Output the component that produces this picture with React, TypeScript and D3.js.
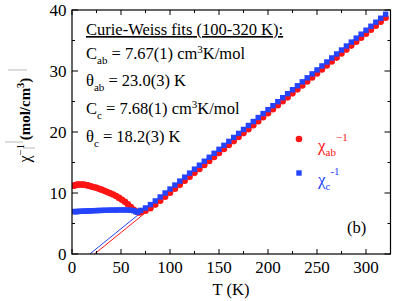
import React from 'react'
import * as d3 from 'd3'

// chi_ab^-1 (red circles) and chi_c^-1 (blue squares)
const tAbLow = [1.8, 3, 4.5, 6, 8, 10, 12, 14, 16, 18, 20, 22.5, 25, 27.5, 30, 33, 36, 39, 42, 45, 48, 51, 54, 57, 60, 63, 66, 68]
const chiAbLow = [11.2, 11.28, 11.33, 11.37, 11.4, 11.4, 11.37, 11.32, 11.25, 11.15, 11.05, 10.95, 10.85, 10.7, 10.55, 10.35, 10.15, 9.95, 9.75, 9.5, 9.2, 8.9, 8.55, 8.15, 7.7, 7.25, 6.95, 6.82]
const tCLow = [1.8, 3, 4.5, 6, 8, 10, 12, 14, 16, 18, 20, 22.5, 25, 27.5, 30, 33, 36, 39, 42, 45, 48, 51, 54, 57, 60, 63, 65, 67]
const chiCLow = [6.95, 6.95, 6.95, 6.97, 7.0, 7.0, 7.02, 7.04, 7.05, 7.07, 7.08, 7.1, 7.12, 7.13, 7.15, 7.17, 7.18, 7.2, 7.2, 7.2, 7.22, 7.22, 7.22, 7.2, 7.18, 7.1, 6.95, 6.85]

const tHigh = [70, 75, 80, 85, 90, 95, 100, 105, 110, 115, 120, 125, 130, 135, 140, 145, 150, 155, 160, 165, 170, 175, 180, 185, 190, 195, 200, 205, 210, 215, 220, 225, 230, 235, 240, 245, 250, 255, 260, 265, 270, 275, 280, 285, 290, 295, 300, 305, 310, 315, 320]
const chiAbHigh = [6.85, 7.1, 7.5, 8.1, 8.75, 9.4, 10.04, 10.69, 11.34, 12.0, 12.65, 13.3, 13.95, 14.6, 15.25, 15.9, 16.56, 17.21, 17.86, 18.51, 19.17, 19.82, 20.47, 21.12, 21.77, 22.43, 23.08, 23.73, 24.38, 25.03, 25.68, 26.34, 26.99, 27.64, 28.29, 28.94, 29.6, 30.25, 30.9, 31.55, 32.2, 32.86, 33.51, 34.16, 34.81, 35.46, 36.11, 36.77, 37.42, 38.07, 38.72]
const chiCHigh = [7.15, 7.55, 8.1, 8.7, 9.35, 10.0, 10.65, 11.3, 11.95, 12.6, 13.26, 13.91, 14.56, 15.21, 15.86, 16.51, 17.16, 17.81, 18.46, 19.11, 19.77, 20.42, 21.07, 21.72, 22.37, 23.02, 23.67, 24.32, 24.97, 25.63, 26.28, 26.93, 27.58, 28.23, 28.88, 29.53, 30.18, 30.83, 31.48, 32.14, 32.79, 33.44, 34.09, 34.74, 35.39, 36.04, 36.69, 37.34, 38.0, 38.65, 39.3]

// Curie-Weiss fit parameters
const fitAb = { C: 7.67, theta: 23.0 }
const fitC = { C: 7.68, theta: 18.2 }

const xMajor = [0, 50, 100, 150, 200, 250, 300]
const xMinor = [25, 75, 125, 175, 225, 275]
const yMajor = [0, 10, 20, 30, 40]
const yMinor = [5, 15, 25, 35]

const RED = '#ff1414'
const BLUE = '#2444ff'
const FONT = '"Liberation Serif", "DejaVu Serif", serif'

export default function App() {
  const W = 395, H = 301
  const m = { l: 72, r: 390.5, t: 10, b: 254 }
  const x = d3.scaleLinear().domain([0, 325]).range([m.l, m.r])
  const y = d3.scaleLinear().domain([0, 40]).range([m.b, m.t])

  const abPts = tAbLow.map((t, i) => [t, chiAbLow[i]]).concat(tHigh.map((t, i) => [t, chiAbHigh[i]]))
  const cPts = tCLow.map((t, i) => [t, chiCLow[i]]).concat(tHigh.map((t, i) => [t, chiCHigh[i]]))

  const line = d3.line<number[]>().x(d => x(d[0])).y(d => y(d[1]))
  const fitLine = (f: { C: number, theta: number }) => line([[f.theta, 0], [320, (320 - f.theta) / f.C]])

  const sub = (s: string) => <tspan fontSize="11" dy="5">{s}</tspan>
  const rows = [
    { y: 59, el: <>C{sub('ab')}<tspan dy="-5"> = 7.67(1) cm</tspan><tspan fontSize="11" dy="-6">3</tspan><tspan dy="6">K/mol</tspan></> },
    { y: 86, el: <>θ{sub('ab')}<tspan dy="-5"> = 23.0(3) K</tspan></> },
    { y: 114, el: <>C{sub('c')}<tspan dy="-5"> = 7.68(1) cm</tspan><tspan fontSize="11" dy="-6">3</tspan><tspan dy="6">K/mol</tspan></> },
    { y: 142, el: <>θ{sub('c')}<tspan dy="-5"> = 18.2(3) K</tspan></> },
  ]

  return (
    <svg width={W} height={H} style={{ position: 'absolute', left: 0, top: 0, background: '#fff' }} fontFamily={FONT}>
      <defs>
        <clipPath id="plot"><rect x={m.l} y={m.t} width={m.r - m.l} height={m.b - m.t} /></clipPath>
      </defs>

      {/* fit lines under the markers */}
      <g clipPath="url(#plot)" fill="none" strokeWidth={1}>
        <path d={fitLine(fitC) || ''} stroke={BLUE} />
        <path d={fitLine(fitAb) || ''} stroke={RED} />
      </g>

      <g clipPath="url(#plot)">
        {abPts.map((d, i) => (
          <circle key={'a' + i} cx={x(d[0])} cy={y(d[1])} r={3.3} fill={RED} />
        ))}
        {cPts.map((d, i) => (
          <rect key={'c' + i} x={x(d[0]) - 2.7} y={y(d[1]) - 2.7} width={5.4} height={5.4} fill={BLUE} />
        ))}
      </g>

      {/* frame and ticks */}
      <rect x={m.l} y={m.t} width={m.r - m.l} height={m.b - m.t} fill="none" stroke="#000" strokeWidth={1.2} />
      <g stroke="#000" strokeWidth={1}>
        {xMajor.map(v => (
          <g key={'xm' + v}>
            <line x1={x(v)} x2={x(v)} y1={m.b} y2={m.b - 5} />
            <line x1={x(v)} x2={x(v)} y1={m.t} y2={m.t + 5} />
          </g>
        ))}
        {xMinor.map(v => (
          <g key={'xn' + v}>
            <line x1={x(v)} x2={x(v)} y1={m.b} y2={m.b - 3} />
            <line x1={x(v)} x2={x(v)} y1={m.t} y2={m.t + 3} />
          </g>
        ))}
        {yMajor.map(v => (
          <g key={'ym' + v}>
            <line x1={m.l} x2={m.l + 6} y1={y(v)} y2={y(v)} />
            <line x1={m.r} x2={m.r - 6} y1={y(v)} y2={y(v)} />
          </g>
        ))}
        {yMinor.map(v => (
          <g key={'yn' + v}>
            <line x1={m.l} x2={m.l + 3} y1={y(v)} y2={y(v)} />
            <line x1={m.r} x2={m.r - 3} y1={y(v)} y2={y(v)} />
          </g>
        ))}
      </g>

      <g fontSize="17" fill="#000">
        {xMajor.map(v => (
          <text key={'xl' + v} x={x(v)} y={273} textAnchor="middle">{v}</text>
        ))}
        {yMajor.map(v => (
          <text key={'yl' + v} x={66.5} y={y(v)} dy="0.35em" textAnchor="end">{v}</text>
        ))}
      </g>

      <text x={231} y={295} fontSize="16.5" textAnchor="middle">T (K)</text>

      {/* y axis label */}
      <g transform="translate(30,120) rotate(-90)">
        <text x={0} y={0} fontSize="15" textAnchor="middle">
          <tspan fontSize="16">χ</tspan><tspan fontSize="10.5" dy="-6">−1</tspan>
          <tspan dy="6" fontWeight="bold"> (mol/cm</tspan><tspan fontSize="10.5" dy="-6" fontWeight="bold">3</tspan><tspan dy="6" fontWeight="bold">)</tspan>
        </text>
        <g stroke="#aaa" strokeWidth={0.8}>
          <line x1={-22} x2={-22} y1={-25} y2={-7} />
          <line x1={-28} x2={-28} y1={-7} y2={5} />
          <line x1={50} x2={50} y1={-22} y2={-3} />
        </g>
      </g>

      {/* annotation */}
      <g fontSize="16.5" fill="#000">
        <text x={86} y={35} textDecoration="underline">Curie-Weiss fits (100-320 K):</text>
        {rows.map((r, i) => <text key={i} x={86} y={r.y}>{r.el}</text>)}
      </g>

      {/* legend */}
      <circle cx={299} cy={139} r={3.3} fill={RED} />
      <text x={318} y={151} fontSize="17" fill={RED}>χ<tspan fontSize="11" dy="5">ab</tspan><tspan fontSize="11" dy="-15">−1</tspan></text>
      <rect x={296.3} y={170.3} width={5.4} height={5.4} fill={BLUE} />
      <text x={318} y={185} fontSize="17" fill={BLUE}>χ<tspan fontSize="11" dy="5">c</tspan><tspan fontSize="11" dy="-15">-1</tspan></text>

      <text x={347} y={233} fontSize="16.5">(b)</text>
    </svg>
  )
}
